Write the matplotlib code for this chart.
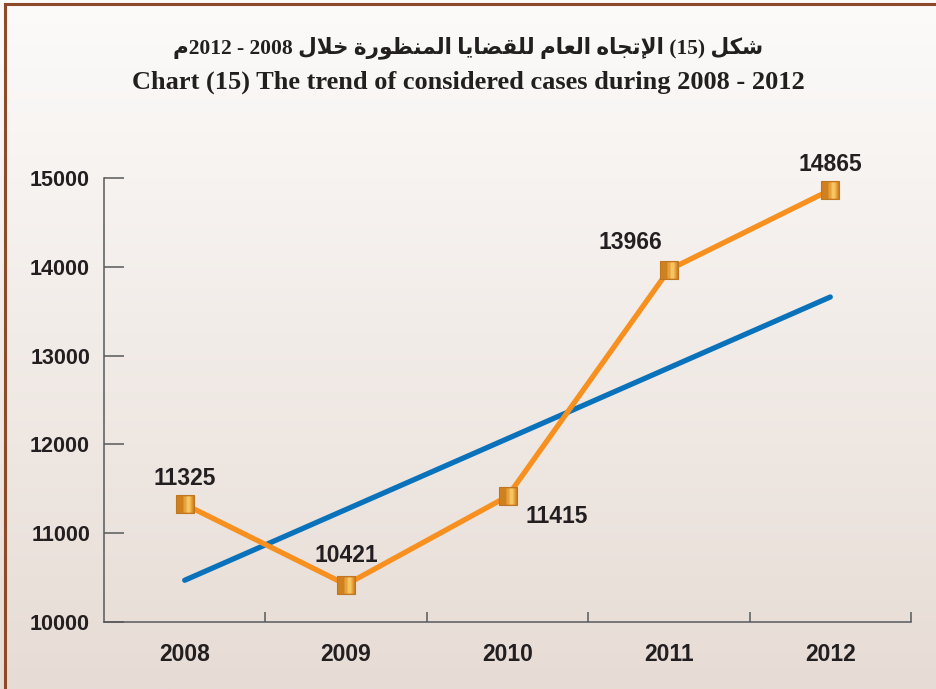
import numpy as np
import matplotlib
matplotlib.use('Agg')
import matplotlib.pyplot as plt
from matplotlib.lines import Line2D

# %% data
years = ['2008', '2009', '2010', '2011', '2012']
cases = [11325, 10421, 11415, 13966, 14865]
trend = [10470, 13660]          # trend line value at 2008 and 2012
yticks = [10000, 11000, 12000, 13000, 14000, 15000]

title_en = 'Chart (15) The trend of considered cases during 2008 - 2012'

# %% tiny arabic shaper (matplotlib has no shaping / bidi)
FORMS = {
    'ا': ('\ufe8d', '\ufe8e', None, None),
    'إ': ('\ufe87', '\ufe88', None, None),
    'ت': ('\ufe95', '\ufe96', '\ufe97', '\ufe98'),
    'ة': ('\ufe93', '\ufe94', None, None),
    'ج': ('\ufe9d', '\ufe9e', '\ufe9f', '\ufea0'),
    'خ': ('\ufea5', '\ufea6', '\ufea7', '\ufea8'),
    'ر': ('\ufead', '\ufeae', None, None),
    'ش': ('\ufeb5', '\ufeb6', '\ufeb7', '\ufeb8'),
    'ض': ('\ufebd', '\ufebe', '\ufebf', '\ufec0'),
    'ظ': ('\ufec5', '\ufec6', '\ufec7', '\ufec8'),
    'ع': ('\ufec9', '\ufeca', '\ufecb', '\ufecc'),
    'ق': ('\ufed5', '\ufed6', '\ufed7', '\ufed8'),
    'ك': ('\ufed9', '\ufeda', '\ufedb', '\ufedc'),
    'ل': ('\ufedd', '\ufede', '\ufedf', '\ufee0'),
    'م': ('\ufee1', '\ufee2', '\ufee3', '\ufee4'),
    'ن': ('\ufee5', '\ufee6', '\ufee7', '\ufee8'),
    'ه': ('\ufee9', '\ufeea', '\ufeeb', '\ufeec'),
    'و': ('\ufeed', '\ufeee', None, None),
    'ي': ('\ufef1', '\ufef2', '\ufef3', '\ufef4'),
}
LIG = {'ا': ('\ufefb', '\ufefc', None, None),
       'إ': ('\ufef9', '\ufefa', None, None)}


def shape(word):
    toks = []
    i = 0
    while i < len(word):
        if word[i] == 'ل' and i + 1 < len(word) and word[i + 1] in LIG:
            toks.append(LIG[word[i + 1]])
            i += 2
        else:
            toks.append(FORMS[word[i]])
            i += 1
    out = ''
    for k, f in enumerate(toks):
        prev = k > 0 and toks[k - 1][2] is not None
        nxt = k + 1 < len(toks) and f[2] is not None
        if prev and nxt:
            out += f[3]
        elif prev:
            out += f[1]
        elif nxt:
            out += f[2]
        else:
            out += f[0]
    return out[::-1]


words = ['الإتجاه', 'العام', 'للقضايا', 'المنظورة', 'خلال']
title_ar = (shape('م') + '2012 - 2008 ' + ' '.join(shape(w) for w in reversed(words))
            + ' (15) ' + shape('شكل'))

# %% figure
W, H = 936, 689
fig = plt.figure(figsize=(W / 100, H / 100), dpi=100)

# background gradient
bg = fig.add_axes([0, 0, 1, 1], zorder=-10)
top = np.array([252, 251, 250]) / 255
bot = np.array([231, 220, 213]) / 255
t = np.linspace(0, 1, 256)[:, None]
grad = (top[None, :] * (1 - t) + bot[None, :] * t)[:, None, :]
bg.imshow(grad, aspect='auto', extent=[0, 1, 0, 1])
bg.axis('off')

# brown frame (left + top)
fig.add_artist(Line2D([5 / W, 5 / W], [0, 1 - 4 / H], color='#8d4a2a', lw=2.2, transform=fig.transFigure))
fig.add_artist(Line2D([5 / W, 1], [1 - 4 / H, 1 - 4 / H], color='#8d4a2a', lw=2.2, transform=fig.transFigure))

ax = fig.add_axes([104 / W, 1 - 622 / H, (911 - 104) / W, (622 - 178) / H])
ax.patch.set_alpha(0)

x = np.arange(len(years)) + 0.5
ax.plot([x[0], x[-1]], trend, color='#0a72ba', lw=3.8, solid_capstyle='round', zorder=2)
ax.plot(x, cases, color='#f7901e', lw=3.8, zorder=3)

# gold square markers with a vertical highlight
ax.plot(x, cases, ls='none', marker='s', ms=12.5, mfc='#cf8120', mec='#c07520', mew=0.8, zorder=4)
stripe1 = [(-0.2, -0.9), (0.75, -0.9), (0.75, 0.9), (-0.2, 0.9)]
stripe2 = [(0.1, -0.9), (0.55, -0.9), (0.55, 0.9), (0.1, 0.9)]
ax.plot(x, cases, ls='none', marker=stripe1, ms=11.5, mfc='#e7a23d', mec='none', zorder=5)
ax.plot(x, cases, ls='none', marker=stripe2, ms=11.5, mfc='#f5c561', mec='none', zorder=6)

lab = dict(fontsize=16.5, fontweight='bold', color='#231f20', family='Liberation Sans')
offsets = [(0, 26, 'center'), (0, 29, 'center'), (18, -20, 'left'), (-39, 27, 'center'), (0, 25, 'center')]
for xi, v, (dx, dy, ha) in zip(x, cases, offsets):
    ax.annotate(f'{v}', (xi, v), xytext=(dx, dy), textcoords='offset pixels',
                ha=ha, va='center', **lab)

ax.set_xlim(0, len(years))
ax.set_ylim(10000, 15000)
ax.set_yticks(yticks)
ax.set_yticklabels([str(v) for v in yticks], **dict(lab, fontsize=15.5))
ax.set_xticks(np.arange(1, len(years) + 1))
ax.set_xticklabels([])
ax.set_xticks(x, minor=True)
ax.set_xticklabels(years, minor=True, **lab)

for s in ['top', 'right']:
    ax.spines[s].set_visible(False)
for s in ['left', 'bottom']:
    ax.spines[s].set_color('#58595b')
    ax.spines[s].set_linewidth(1.1)

ax.tick_params(axis='y', direction='in', length=14.5, width=1.1, color='#58595b', pad=10)
ax.tick_params(axis='x', which='major', direction='in', length=7, width=1.1, color='#58595b')
ax.tick_params(axis='x', which='minor', length=0, pad=15)

fig.text(468 / W, 1 - 48 / H, title_ar, ha='center', va='center', fontsize=15.5,
         fontweight='bold', family=['Liberation Serif', 'DejaVu Sans'], color='#231f20')
fig.text(468 / W, 1 - 82 / H, title_en, ha='center', va='center', fontsize=19,
         fontweight='bold', family='Liberation Serif', color='#231f20')

fig.savefig('out.png', dpi=100)
